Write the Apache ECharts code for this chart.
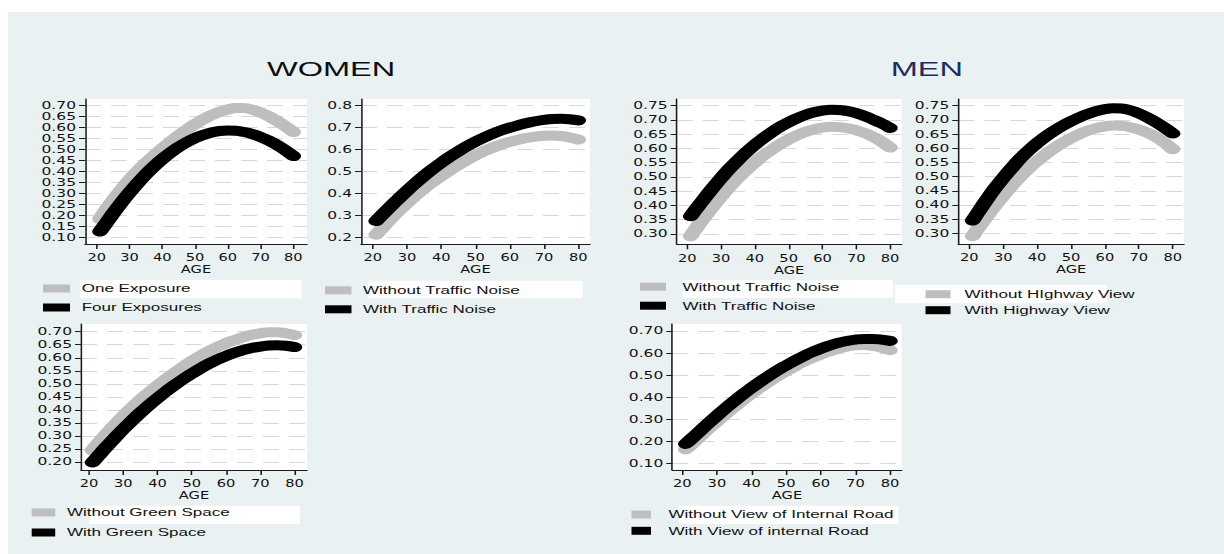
<!DOCTYPE html>
<html>
<head>
<meta charset="utf-8">
<title>Predicted probability by age</title>
<script src="https://cdn.jsdelivr.net/npm/echarts@6/dist/echarts.min.js"></script>
<style>
  html, body { margin: 0; padding: 0; background: #fff; overflow: hidden; }
  #wrap { position: relative; width: 1224px; height: 554px; overflow: hidden; }
  #chart { position: absolute; left: 0; top: 0; height: 554px; transform-origin: 0 0; }
</style>
</head>
<body>
<div id="wrap"><div id="chart"></div></div>
<script>
// The figure is laid out in page pixels and stretched horizontally by S.
const S = 1.55;
const X = v => v / S;

// ---- data -------------------------------------------------------------
const ages = [21, 22.5, 25, 27.5, 30, 32.5, 35, 37.5, 40, 42.5, 45, 47.5, 50,
              52.5, 55, 57.5, 60, 62.5, 65, 67.5, 70, 72.5, 75, 77.5, 80];
const ageTicks = [20, 30, 40, 50, 60, 70, 80];

// Women
const womenOneExposure   = [0.185, 0.219, 0.270, 0.318, 0.362, 0.402, 0.439, 0.473, 0.505, 0.535, 0.564, 0.591, 0.616,
                            0.638, 0.657, 0.672, 0.683, 0.689, 0.689, 0.682, 0.669, 0.652, 0.631, 0.607, 0.580];
const womenFourExposures = [0.128, 0.158, 0.210, 0.259, 0.305, 0.348, 0.388, 0.424, 0.457, 0.486, 0.512, 0.534, 0.553,
                            0.567, 0.578, 0.585, 0.587, 0.586, 0.580, 0.571, 0.558, 0.542, 0.522, 0.498, 0.471];
const womenNoTraffic     = [0.212, 0.238, 0.281, 0.320, 0.356, 0.391, 0.423, 0.452, 0.479, 0.505, 0.530, 0.553, 0.574,
                            0.593, 0.609, 0.623, 0.635, 0.645, 0.653, 0.659, 0.663, 0.664, 0.662, 0.655, 0.645];
const womenTraffic       = [0.274, 0.298, 0.337, 0.375, 0.412, 0.447, 0.480, 0.511, 0.540, 0.567, 0.592, 0.615, 0.636,
                            0.655, 0.672, 0.687, 0.700, 0.711, 0.721, 0.729, 0.735, 0.739, 0.740, 0.738, 0.733];
const womenNoGreen       = [0.245, 0.268, 0.306, 0.342, 0.376, 0.408, 0.438, 0.466, 0.493, 0.518, 0.542, 0.565, 0.587,
                            0.607, 0.625, 0.641, 0.656, 0.668, 0.679, 0.688, 0.694, 0.698, 0.698, 0.694, 0.687];
const womenGreen         = [0.198, 0.220, 0.257, 0.292, 0.326, 0.358, 0.389, 0.418, 0.445, 0.471, 0.495, 0.518, 0.539,
                            0.559, 0.577, 0.593, 0.607, 0.619, 0.629, 0.637, 0.643, 0.647, 0.648, 0.646, 0.641];

// Men
const menNoTraffic  = [0.292, 0.318, 0.358, 0.396, 0.432, 0.466, 0.497, 0.525, 0.551, 0.575, 0.596, 0.615, 0.632,
                       0.646, 0.658, 0.667, 0.673, 0.676, 0.675, 0.671, 0.664, 0.654, 0.641, 0.624, 0.603];
const menTraffic    = [0.362, 0.386, 0.424, 0.461, 0.496, 0.529, 0.559, 0.587, 0.613, 0.636, 0.657, 0.676, 0.692,
                       0.706, 0.718, 0.727, 0.733, 0.736, 0.735, 0.731, 0.724, 0.714, 0.701, 0.688, 0.672];
const menNoHighway  = [0.290, 0.316, 0.357, 0.396, 0.433, 0.468, 0.500, 0.529, 0.555, 0.579, 0.600, 0.619, 0.636,
                       0.650, 0.662, 0.671, 0.677, 0.680, 0.679, 0.674, 0.666, 0.655, 0.640, 0.620, 0.596];
const menHighway    = [0.345, 0.372, 0.416, 0.458, 0.495, 0.530, 0.563, 0.592, 0.618, 0.641, 0.661, 0.679, 0.695,
                       0.709, 0.721, 0.731, 0.738, 0.741, 0.740, 0.734, 0.723, 0.709, 0.692, 0.673, 0.652];
const menNoRoadView = [0.163, 0.184, 0.220, 0.256, 0.290, 0.324, 0.356, 0.387, 0.416, 0.444, 0.470, 0.495, 0.518,
                       0.540, 0.560, 0.578, 0.594, 0.608, 0.620, 0.629, 0.635, 0.636, 0.633, 0.625, 0.613];
const menRoadView   = [0.188, 0.209, 0.245, 0.281, 0.316, 0.350, 0.382, 0.413, 0.442, 0.470, 0.496, 0.521, 0.544,
                       0.566, 0.586, 0.604, 0.620, 0.634, 0.646, 0.655, 0.661, 0.664, 0.664, 0.661, 0.655];

// y-axis tick labels
const ticksExposure = [0.10, 0.15, 0.20, 0.25, 0.30, 0.35, 0.40, 0.45, 0.50, 0.55, 0.60, 0.65, 0.70];
const ticksWomenTraffic = [0.2, 0.3, 0.4, 0.5, 0.6, 0.7, 0.8];
const ticksMenTop = [0.30, 0.35, 0.40, 0.45, 0.50, 0.55, 0.60, 0.65, 0.70, 0.75];
const ticksGreen = [0.20, 0.25, 0.30, 0.35, 0.40, 0.45, 0.50, 0.55, 0.60, 0.65, 0.70];
const ticksRoad = [0.10, 0.20, 0.30, 0.40, 0.50, 0.60, 0.70];

const GRAY = '#bebebe';
const BLACK = '#000000';

// ---- panel layout (page pixels) -----------------------------------------
// box: plot region [left, top, right, bottom]; xAt: pixel of age 20 and 80;
// yAt: pixel of first and last y tick; key: legend placement; note: white label strip
const panels = [
  { box: [85, 99, 307, 244], xAt: [96.7, 293.3], yAt: [237.7, 105.7], yTicks: ticksExposure, dec: 2,
    lines: [['One Exposure', womenOneExposure], ['Four Exposures', womenFourExposures]],
    key: { left: 43, top: 282.5, w: 27, gap: 7, txt: 11.7 }, note: [80, 280, 301.7, 298.3] },
  { box: [361, 99, 590, 244], xAt: [372.7, 578.3], yAt: [237.3, 105.7], yTicks: ticksWomenTraffic, dec: 1,
    lines: [['Without Traffic Noise', womenNoTraffic], ['With Traffic Noise', womenTraffic]],
    key: { left: 325, top: 284.3, w: 26.5, gap: 7, txt: 11.5 }, note: [368, 280.7, 582.7, 298.3] },
  { box: [676.7, 99, 901.7, 244.3], xAt: [687.3, 890], yAt: [234, 105.7], yTicks: ticksMenTop, dec: 2,
    lines: [['Without Traffic Noise', menNoTraffic], ['With Traffic Noise', menTraffic]],
    key: { left: 640, top: 280.7, w: 26, gap: 7, txt: 16.5 }, note: [683, 280, 893, 298] },
  { box: [958.3, 99, 1184, 244], xAt: [969.3, 1172.7], yAt: [233.3, 105.7], yTicks: ticksMenTop, dec: 2,
    lines: [['Without HIghway View', menNoHighway], ['With Highway View', menHighway]],
    key: { left: 925.5, top: 288.2, w: 25, gap: 4, txt: 14 }, note: [895, 285, 1106.7, 303.3] },
  { box: [81, 324, 307, 470], xAt: [89, 294.5], yAt: [462, 331.7], yTicks: ticksGreen, dec: 2,
    lines: [['Without Green Space', womenNoGreen], ['With Green Space', womenGreen]],
    key: { left: 31.7, top: 506.5, w: 23.5, gap: 8, txt: 11.7 }, note: [89.3, 505.7, 300, 524] },
  { box: [672.3, 324, 901.7, 470], xAt: [682.3, 890], yAt: [463.3, 331], yTicks: ticksRoad, dec: 2,
    lines: [['Without View of Internal Road', menNoRoadView], ['With View of internal Road', menRoadView]],
    key: { left: 631.5, top: 508.5, w: 19.5, gap: 4.3, txt: 17.5 }, note: [679, 505.7, 898.3, 524] }
];

// Axis extent that puts the given ticks at the given pixels inside the box edges.
function extent(t0, t1, p0, p1, e0, e1) {
  const k = (t1 - t0) / (p1 - p0);
  return [t0 + (e0 - p0) * k, t1 + (e1 - p1) * k];
}

const AXIS_COLOR = '#1a1a1a';
const TEXT_COLOR = '#111111';
const NARROW = "'Liberation Sans Narrow', 'DejaVu Sans Condensed', 'Liberation Sans', sans-serif";
const LEGEND_FONT = { fontFamily: 'Liberation Sans', fontSize: 11, color: TEXT_COLOR };
// the legend symbol is left empty; each key is a filled box at the start of its label
const ICON_W = 1, ICON_GAP = 5;

const grid = [], xAxis = [], yAxis = [], series = [], legend = [];
const graphics = [{
  type: 'rect', silent: true, z: -10,
  shape: { x: X(8), y: 12, width: X(1216), height: 542 },
  style: { fill: '#e9f1f3' }
}];

panels.forEach((p, i) => {
  const [l, t, r, b] = p.box;
  grid.push({
    left: X(l), top: t, width: X(r - l), height: b - t,
    containLabel: false, outerBoundsMode: 'none',
    show: true, backgroundColor: '#ffffff', borderWidth: 0
  });

  const [xMin, xMax] = extent(ageTicks[0], ageTicks[ageTicks.length - 1], p.xAt[0], p.xAt[1], l, r);
  const yt = p.yTicks;
  const [yMin, yMax] = extent(yt[0], yt[yt.length - 1], p.yAt[0], p.yAt[1], b, t);

  xAxis.push({
    type: 'value', gridIndex: i, min: xMin, max: xMax, position: 'bottom',
    axisLine: { show: true, onZero: false, lineStyle: { color: AXIS_COLOR, width: 1 } },
    axisTick: { show: true, customValues: ageTicks, length: 5, lineStyle: { color: AXIS_COLOR } },
    axisLabel: { customValues: ageTicks, margin: 8, fontFamily: NARROW, fontSize: 10.5, color: TEXT_COLOR },
    splitLine: { show: false },
    name: 'AGE', nameLocation: 'middle', nameGap: 19,
    nameTextStyle: { fontFamily: NARROW, fontSize: 10.5, color: TEXT_COLOR }
  });

  yAxis.push({
    type: 'value', gridIndex: i, min: yMin, max: yMax, position: 'left',
    axisLine: { show: true, onZero: false, lineStyle: { color: AXIS_COLOR, width: 1 } },
    axisTick: { show: true, customValues: yt, length: X(6), lineStyle: { color: AXIS_COLOR } },
    axisLabel: {
      customValues: yt, margin: X(9), fontFamily: 'DejaVu Sans', fontSize: 10, color: TEXT_COLOR,
      formatter: v => Number(v).toFixed(p.dec)
    },
    splitLine: { show: true, lineStyle: { color: '#d8d8d8', width: 1, type: [X(16), X(10)] } }
  });

  p.lines.forEach(([name, vals], j) => {
    const color = j === 0 ? GRAY : BLACK;
    series.push({
      type: 'line', name, xAxisIndex: i, yAxisIndex: i,
      data: ages.map((a, k) => [a, vals[k]]),
      smooth: 0.4, symbol: 'none', showSymbol: false, silent: true,
      color, itemStyle: { color },
      lineStyle: { color, width: 10, cap: 'round', join: 'round' },
      z: 3 + j
    });
  });

  const names = p.lines.map(d => d[0]);
  const keyBox = fill => ({ width: X(p.key.w), height: 8, lineHeight: 8, backgroundColor: fill, verticalAlign: 'middle' });
  legend.push({
    orient: 'vertical', left: X(p.key.left) - ICON_W - ICON_GAP, top: p.key.top,
    itemWidth: ICON_W, itemHeight: 8, itemGap: p.key.gap, padding: 0,
    icon: 'none', selectedMode: false,
    data: names,
    formatter: name => (name === names[0] ? '{g| }' : '{b| }') + '{t|' + name + '}',
    textStyle: Object.assign({}, LEGEND_FONT, {
      lineHeight: 12,
      rich: {
        g: keyBox(GRAY),
        b: keyBox(BLACK),
        t: Object.assign({}, LEGEND_FONT, { lineHeight: 12, verticalAlign: 'middle', padding: [0, 0, 0, X(p.key.txt)] })
      }
    })
  });

  const [nl, nt, nr, nb] = p.note;
  graphics.push({
    type: 'rect', silent: true, z: -5,
    shape: { x: X(nl), y: nt, width: X(nr - nl), height: nb - nt },
    style: { fill: '#ffffff' }
  });
});

const el = document.getElementById('chart');
el.style.width = (1224 / S) + 'px';
el.style.transform = 'scaleX(' + S + ')';

const chart = echarts.init(el, null, { renderer: 'svg' });
chart.setOption({
  animation: false,
  backgroundColor: '#ffffff',
  title: [
    { text: 'WOMEN', left: X(267), top: 58, padding: 0,
      textStyle: { fontFamily: 'Liberation Sans', fontSize: 21, fontWeight: 'normal', color: '#0d0d0d' } },
    { text: 'MEN', left: X(890.7), top: 58, padding: 0,
      textStyle: { fontFamily: 'Liberation Sans', fontSize: 21, fontWeight: 'normal', color: '#1f2d5c' } }
  ],
  graphic: { elements: graphics },
  grid, xAxis, yAxis, series, legend
});
</script>
</body>
</html>
